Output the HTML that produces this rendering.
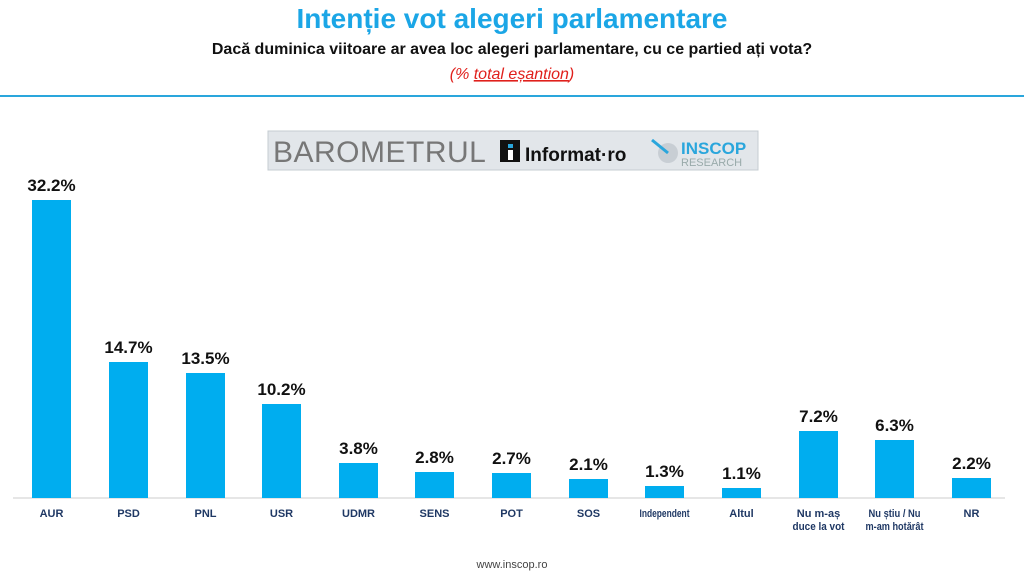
<!DOCTYPE html>
<html><head><meta charset="utf-8"><style>
body{margin:0;background:#fff;width:1024px;height:578px;overflow:hidden}
</style></head><body>
<svg width="1024" height="578" xmlns="http://www.w3.org/2000/svg" font-family="Liberation Sans, Arial, sans-serif">
<text x="512" y="28" text-anchor="middle" font-size="28" font-weight="bold" fill="#1ba6e6">Intenție vot alegeri parlamentare</text>
<text x="512" y="54" text-anchor="middle" font-size="16" font-weight="bold" fill="#111">Dacă duminica viitoare ar avea loc alegeri parlamentare, cu ce partied ați vota?</text>
<text x="512" y="79" text-anchor="middle" font-size="16" font-style="italic" fill="#e0201c">(% <tspan text-decoration="underline">total eșantion</tspan>)</text>
<rect x="0" y="95" width="1024" height="2" fill="#2aa6dc"/>
<rect x="268" y="131" width="490" height="39" fill="#e2e6ea" stroke="#c5ccd2"/>
<text x="273" y="162" font-size="30" fill="#777" letter-spacing="0.5">BAROMETRUL</text>
<rect x="500" y="140" width="20" height="22" fill="#111"/>
<rect x="508" y="144" width="5" height="4" fill="#2aa6dc"/>
<rect x="508" y="150" width="5" height="10" fill="#fff"/>
<text x="525" y="161" font-size="19" font-weight="bold" fill="#111">Informat·ro</text>
<circle cx="668" cy="153" r="10" fill="#c8ced4"/>
<line x1="652" y1="140" x2="668" y2="153" stroke="#2aa6dc" stroke-width="3"/>
<text x="681" y="154" font-size="17" font-weight="bold" fill="#2aa6dc">INSCOP</text>
<text x="681" y="166" font-size="11" fill="#9aa">RESEARCH</text>
<line x1="13" y1="498" x2="1005" y2="498" stroke="#ccc" stroke-width="1"/>
<g fill="#00adef">
<rect x="32" y="200" width="39" height="298"/>
<rect x="109" y="362" width="39" height="136"/>
<rect x="186" y="373" width="39" height="125"/>
<rect x="262" y="404" width="39" height="94"/>
<rect x="339" y="463" width="39" height="35"/>
<rect x="415" y="472" width="39" height="26"/>
<rect x="492" y="473" width="39" height="25"/>
<rect x="569" y="479" width="39" height="19"/>
<rect x="645" y="486" width="39" height="12"/>
<rect x="722" y="488" width="39" height="10"/>
<rect x="799" y="431" width="39" height="67"/>
<rect x="875" y="440" width="39" height="58"/>
<rect x="952" y="478" width="39" height="20"/>
</g>
<g font-size="17" font-weight="bold" fill="#111" text-anchor="middle">
<text x="51.5" y="191">32.2%</text>
<text x="128.5" y="353">14.7%</text>
<text x="205.5" y="364">13.5%</text>
<text x="281.5" y="395">10.2%</text>
<text x="358.5" y="454">3.8%</text>
<text x="434.5" y="463">2.8%</text>
<text x="511.5" y="464">2.7%</text>
<text x="588.5" y="470">2.1%</text>
<text x="664.5" y="477">1.3%</text>
<text x="741.5" y="479">1.1%</text>
<text x="818.5" y="422">7.2%</text>
<text x="894.5" y="431">6.3%</text>
<text x="971.5" y="469">2.2%</text>
</g>
<g font-size="11" font-weight="bold" fill="#1f3864" text-anchor="middle">
<text x="51.5" y="517">AUR</text>
<text x="128.5" y="517">PSD</text>
<text x="205.5" y="517">PNL</text>
<text x="281.5" y="517">USR</text>
<text x="358.5" y="517">UDMR</text>
<text x="434.5" y="517">SENS</text>
<text x="511.5" y="517">POT</text>
<text x="588.5" y="517">SOS</text>
<text x="664.5" y="517" textLength="50" lengthAdjust="spacingAndGlyphs">Independent</text>
<text x="741.5" y="517">Altul</text>
<text x="818.5" y="517">Nu m-aș</text>
<text x="818.5" y="530" textLength="52" lengthAdjust="spacingAndGlyphs">duce la vot</text>
<text x="894.5" y="517" textLength="52" lengthAdjust="spacingAndGlyphs">Nu știu / Nu</text>
<text x="894.5" y="530" textLength="58" lengthAdjust="spacingAndGlyphs">m-am hotărât</text>
<text x="971.5" y="517">NR</text>
</g>
<text x="512" y="568" text-anchor="middle" font-size="11" fill="#444">www.inscop.ro</text>
</svg>
</body></html>
